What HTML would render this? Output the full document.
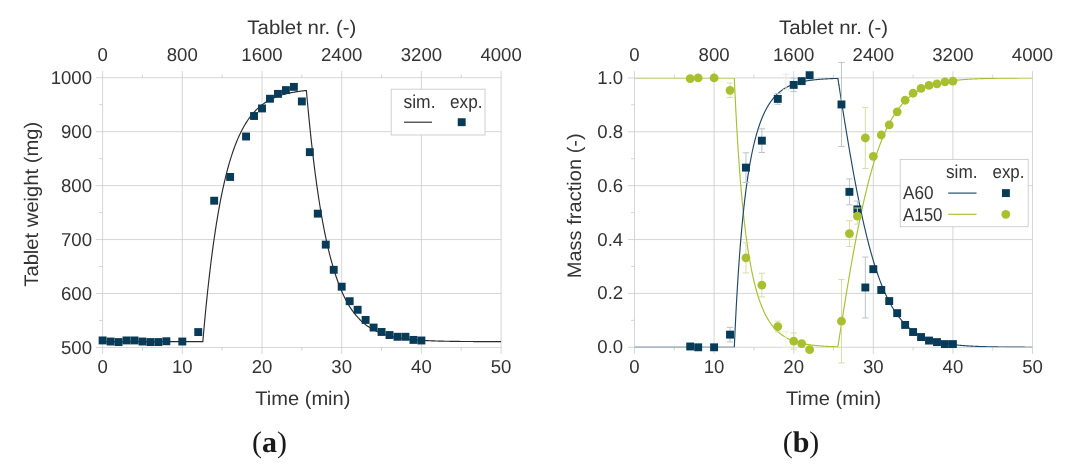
<!DOCTYPE html>
<html lang="en"><head><meta charset="utf-8"><title>Figure</title>
<style>html,body{margin:0;padding:0;background:#fff}svg{display:block}</style></head>
<body>
<svg width="1070" height="476" viewBox="0 0 1070 476" text-rendering="geometricPrecision">
<rect width="1070" height="476" fill="#ffffff"/>
<g stroke="#cbcbcb" stroke-width="0.8" fill="none"><line x1="102.60" y1="71.00" x2="102.60" y2="353.95"/><line x1="182.30" y1="71.00" x2="182.30" y2="353.95"/><line x1="262.00" y1="71.00" x2="262.00" y2="353.95"/><line x1="341.70" y1="71.00" x2="341.70" y2="353.95"/><line x1="421.40" y1="71.00" x2="421.40" y2="353.95"/><line x1="501.10" y1="71.00" x2="501.10" y2="353.95"/><line x1="142.45" y1="74.40" x2="142.45" y2="77.70"/><line x1="142.45" y1="347.45" x2="142.45" y2="350.75"/><line x1="222.15" y1="74.40" x2="222.15" y2="77.70"/><line x1="222.15" y1="347.45" x2="222.15" y2="350.75"/><line x1="301.85" y1="74.40" x2="301.85" y2="77.70"/><line x1="301.85" y1="347.45" x2="301.85" y2="350.75"/><line x1="381.55" y1="74.40" x2="381.55" y2="77.70"/><line x1="381.55" y1="347.45" x2="381.55" y2="350.75"/><line x1="461.25" y1="74.40" x2="461.25" y2="77.70"/><line x1="461.25" y1="347.45" x2="461.25" y2="350.75"/><line x1="95.80" y1="77.70" x2="501.10" y2="77.70"/><line x1="99.20" y1="104.68" x2="102.60" y2="104.68"/><line x1="95.80" y1="131.65" x2="501.10" y2="131.65"/><line x1="99.20" y1="158.62" x2="102.60" y2="158.62"/><line x1="95.80" y1="185.60" x2="501.10" y2="185.60"/><line x1="99.20" y1="212.58" x2="102.60" y2="212.58"/><line x1="95.80" y1="239.55" x2="501.10" y2="239.55"/><line x1="99.20" y1="266.53" x2="102.60" y2="266.53"/><line x1="95.80" y1="293.50" x2="501.10" y2="293.50"/><line x1="99.20" y1="320.48" x2="102.60" y2="320.48"/><line x1="95.80" y1="347.45" x2="501.10" y2="347.45"/></g>
<g font-family='"Liberation Sans", Arial, sans-serif' font-size="18.6" fill="#333333"><text x="102.60" y="60.7" text-anchor="middle">0</text><text x="182.30" y="60.7" text-anchor="middle">800</text><text x="262.00" y="60.7" text-anchor="middle">1600</text><text x="341.70" y="60.7" text-anchor="middle">2400</text><text x="421.40" y="60.7" text-anchor="middle">3200</text><text x="501.10" y="60.7" text-anchor="middle">4000</text><text x="102.60" y="373.4" text-anchor="middle">0</text><text x="182.30" y="373.4" text-anchor="middle">10</text><text x="262.00" y="373.4" text-anchor="middle">20</text><text x="341.70" y="373.4" text-anchor="middle">30</text><text x="421.40" y="373.4" text-anchor="middle">40</text><text x="501.10" y="373.4" text-anchor="middle">50</text><text x="92.00" y="84.30" text-anchor="end">1000</text><text x="92.00" y="138.25" text-anchor="end">900</text><text x="92.00" y="192.20" text-anchor="end">800</text><text x="92.00" y="246.15" text-anchor="end">700</text><text x="92.00" y="300.10" text-anchor="end">600</text><text x="92.00" y="354.05" text-anchor="end">500</text></g>
<g font-family='"Liberation Sans", Arial, sans-serif' font-size="19.6" fill="#333333"><text x="301.85" y="34.2" text-anchor="middle" textLength="109" lengthAdjust="spacingAndGlyphs">Tablet nr. (-)</text><text x="302.85" y="404.7" text-anchor="middle" textLength="95.2" lengthAdjust="spacingAndGlyphs">Time (min)</text><text transform="translate(38.4,204.2) rotate(-90)" text-anchor="middle" textLength="165" lengthAdjust="spacingAndGlyphs">Tablet weight (mg)</text></g>
<polyline points="102.60,341.68 202.83,341.68 202.83,341.68 203.63,332.53 204.42,323.72 205.22,315.23 206.02,307.04 206.82,299.14 207.61,291.54 208.41,284.20 209.21,277.13 210.00,270.32 210.80,263.75 211.60,257.42 212.39,251.32 213.19,245.44 213.99,239.77 214.79,234.31 215.58,229.04 216.38,223.96 217.18,219.07 217.97,214.35 218.77,209.80 219.57,205.42 220.36,201.20 221.16,197.12 221.96,193.20 222.76,189.41 223.55,185.77 224.35,182.25 225.15,178.86 225.94,175.60 226.74,172.45 227.54,169.41 228.33,166.49 229.13,163.67 229.93,160.95 230.73,158.33 231.52,155.81 232.32,153.37 233.12,151.03 233.91,148.77 234.71,146.59 235.51,144.49 236.30,142.46 237.10,140.51 237.90,138.63 238.70,136.81 239.49,135.07 240.29,133.38 241.09,131.76 241.88,130.19 242.68,128.68 243.48,127.23 244.27,125.82 245.07,124.47 245.87,123.17 246.67,121.91 247.46,120.70 248.26,119.54 249.06,118.41 249.85,117.33 250.65,116.28 251.45,115.28 252.24,114.31 253.04,113.37 253.84,112.47 254.64,111.60 255.43,110.76 256.23,109.95 257.03,109.17 257.82,108.42 258.62,107.70 259.42,107.00 260.21,106.33 261.01,105.68 261.81,105.06 262.61,104.46 263.40,103.88 264.20,103.32 265.00,102.78 265.79,102.26 266.59,101.76 267.39,101.27 268.18,100.81 268.98,100.36 269.78,99.93 270.58,99.51 271.37,99.11 272.17,98.72 272.97,98.35 273.76,97.99 274.56,97.64 275.36,97.31 276.15,96.99 276.95,96.68 277.75,96.38 278.55,96.09 279.34,95.81 280.14,95.54 280.94,95.28 281.73,95.03 282.53,94.79 283.33,94.56 284.12,94.34 284.92,94.12 285.72,93.92 286.52,93.72 287.31,93.52 288.11,93.34 288.91,93.16 289.70,92.99 290.50,92.82 291.30,92.66 292.09,92.51 292.89,92.36 293.69,92.21 294.49,92.08 295.28,91.94 296.08,91.81 296.88,91.69 297.67,91.57 298.47,91.46 299.27,91.34 300.06,91.24 300.86,91.13 301.66,91.04 302.46,90.94 303.25,90.85 304.05,90.76 304.85,90.67 305.64,90.59 306.39,90.51 306.39,90.51 307.19,99.45 307.99,108.07 308.78,116.38 309.58,124.40 310.38,132.13 311.17,139.59 311.97,146.78 312.77,153.71 313.57,160.40 314.36,166.85 315.16,173.07 315.96,179.07 316.75,184.86 317.55,190.44 318.35,195.82 319.14,201.01 319.94,206.02 320.74,210.84 321.54,215.50 322.33,219.99 323.13,224.32 323.93,228.50 324.72,232.52 325.52,236.41 326.32,240.15 327.11,243.77 327.91,247.25 328.71,250.61 329.51,253.85 330.30,256.97 331.10,259.99 331.90,262.90 332.69,265.70 333.49,268.40 334.29,271.01 335.08,273.52 335.88,275.95 336.68,278.29 337.48,280.54 338.27,282.72 339.07,284.82 339.87,286.84 340.66,288.79 341.46,290.67 342.26,292.49 343.05,294.24 343.85,295.93 344.65,297.55 345.45,299.12 346.24,300.64 347.04,302.10 347.84,303.51 348.63,304.87 349.43,306.18 350.23,307.44 351.02,308.66 351.82,309.83 352.62,310.97 353.42,312.06 354.21,313.11 355.01,314.13 355.81,315.11 356.60,316.05 357.40,316.97 358.20,317.85 358.99,318.69 359.79,319.51 360.59,320.30 361.39,321.06 362.18,321.79 362.98,322.50 363.78,323.18 364.57,323.84 365.37,324.48 366.17,325.09 366.96,325.68 367.76,326.25 368.56,326.80 369.36,327.33 370.15,327.84 370.95,328.33 371.75,328.80 372.54,329.26 373.34,329.70 374.14,330.13 374.93,330.54 375.73,330.94 376.53,331.32 377.33,331.69 378.12,332.04 378.92,332.39 379.72,332.72 380.51,333.04 381.31,333.34 382.11,333.64 382.90,333.93 383.70,334.20 384.50,334.47 385.30,334.72 386.09,334.97 386.89,335.21 387.69,335.44 388.48,335.66 389.28,335.88 390.08,336.08 390.87,336.28 391.67,336.47 392.47,336.66 393.27,336.84 394.06,337.01 394.86,337.18 395.66,337.34 396.45,337.49 397.25,337.64 398.05,337.78 398.84,337.92 399.64,338.06 400.44,338.18 401.24,338.31 402.03,338.43 402.83,338.54 403.63,338.66 404.42,338.76 405.22,338.87 406.02,338.97 406.81,339.06 407.61,339.16 408.41,339.25 409.21,339.33 410.00,339.42 410.80,339.50 411.60,339.57 412.39,339.65 413.19,339.72 413.99,339.79 414.78,339.86 415.58,339.92 416.38,339.99 417.18,340.05 417.97,340.10 418.77,340.16 419.57,340.21 420.36,340.27 421.16,340.32 421.96,340.36 422.75,340.41 423.55,340.46 424.35,340.50 425.15,340.54 425.94,340.58 426.74,340.62 427.54,340.66 428.33,340.69 429.13,340.73 429.93,340.76 430.72,340.80 431.52,340.83 432.32,340.86 433.12,340.89 433.91,340.91 434.71,340.94 435.51,340.97 436.30,340.99 437.10,341.02 437.90,341.04 438.69,341.06 439.49,341.09 440.29,341.11 441.09,341.13 441.88,341.15 442.68,341.17 443.48,341.18 444.27,341.20 445.07,341.22 445.87,341.23 446.66,341.25 447.46,341.27 448.26,341.28 449.06,341.29 449.85,341.31 450.65,341.32 451.45,341.33 452.24,341.35 453.04,341.36 453.84,341.37 454.63,341.38 455.43,341.39 456.23,341.40 457.03,341.41 457.82,341.42 458.62,341.43 459.42,341.44 460.21,341.45 461.01,341.45 461.81,341.46 462.60,341.47 463.40,341.48 464.20,341.48 465.00,341.49 465.79,341.50 466.59,341.50 467.39,341.51 468.18,341.52 468.98,341.52 469.78,341.53 470.57,341.53 471.37,341.54 472.17,341.54 472.97,341.55 473.76,341.55 474.56,341.56 475.36,341.56 476.15,341.57 476.95,341.57 477.75,341.57 478.54,341.58 479.34,341.58 480.14,341.58 480.94,341.59 481.73,341.59 482.53,341.59 483.33,341.60 484.12,341.60 484.92,341.60 485.72,341.60 486.51,341.61 487.31,341.61 488.11,341.61 488.91,341.61 489.70,341.62 490.50,341.62 491.30,341.62 492.09,341.62 492.89,341.63 493.69,341.63 494.48,341.63 495.28,341.63 496.08,341.63 496.88,341.63 497.67,341.64 498.47,341.64 499.27,341.64 500.06,341.64 500.86,341.64 501.10,341.64" fill="none" stroke="#2b2b2b" stroke-width="1.15" stroke-linejoin="miter"/>
<rect x="98.65" y="336.49" width="7.9" height="7.9" fill="#073b58"/><rect x="106.62" y="337.57" width="7.9" height="7.9" fill="#073b58"/><rect x="114.59" y="338.11" width="7.9" height="7.9" fill="#073b58"/><rect x="122.56" y="336.49" width="7.9" height="7.9" fill="#073b58"/><rect x="130.53" y="336.49" width="7.9" height="7.9" fill="#073b58"/><rect x="138.50" y="337.57" width="7.9" height="7.9" fill="#073b58"/><rect x="146.47" y="338.11" width="7.9" height="7.9" fill="#073b58"/><rect x="154.44" y="338.11" width="7.9" height="7.9" fill="#073b58"/><rect x="162.41" y="337.30" width="7.9" height="7.9" fill="#073b58"/><rect x="178.35" y="337.57" width="7.9" height="7.9" fill="#073b58"/><rect x="194.29" y="328.12" width="7.9" height="7.9" fill="#073b58"/><rect x="210.23" y="196.76" width="7.9" height="7.9" fill="#073b58"/><rect x="226.17" y="173.02" width="7.9" height="7.9" fill="#073b58"/><rect x="242.11" y="132.56" width="7.9" height="7.9" fill="#073b58"/><rect x="250.08" y="112.05" width="7.9" height="7.9" fill="#073b58"/><rect x="258.05" y="104.50" width="7.9" height="7.9" fill="#073b58"/><rect x="266.02" y="94.79" width="7.9" height="7.9" fill="#073b58"/><rect x="273.99" y="89.93" width="7.9" height="7.9" fill="#073b58"/><rect x="281.96" y="86.16" width="7.9" height="7.9" fill="#073b58"/><rect x="289.93" y="82.92" width="7.9" height="7.9" fill="#073b58"/><rect x="297.90" y="97.49" width="7.9" height="7.9" fill="#073b58"/><rect x="305.87" y="148.20" width="7.9" height="7.9" fill="#073b58"/><rect x="313.84" y="209.70" width="7.9" height="7.9" fill="#073b58"/><rect x="321.81" y="240.67" width="7.9" height="7.9" fill="#073b58"/><rect x="329.78" y="265.87" width="7.9" height="7.9" fill="#073b58"/><rect x="337.75" y="282.75" width="7.9" height="7.9" fill="#073b58"/><rect x="345.72" y="297.26" width="7.9" height="7.9" fill="#073b58"/><rect x="353.69" y="305.84" width="7.9" height="7.9" fill="#073b58"/><rect x="361.66" y="315.99" width="7.9" height="7.9" fill="#073b58"/><rect x="369.63" y="323.59" width="7.9" height="7.9" fill="#073b58"/><rect x="377.60" y="328.02" width="7.9" height="7.9" fill="#073b58"/><rect x="385.57" y="331.09" width="7.9" height="7.9" fill="#073b58"/><rect x="393.54" y="332.82" width="7.9" height="7.9" fill="#073b58"/><rect x="401.51" y="332.82" width="7.9" height="7.9" fill="#073b58"/><rect x="409.48" y="335.95" width="7.9" height="7.9" fill="#073b58"/><rect x="417.45" y="336.54" width="7.9" height="7.9" fill="#073b58"/>
<rect x="391.2" y="89.2" width="93.8" height="45.8" fill="#ffffff" stroke="#cbcbcb" stroke-width="0.9"/>
<g font-family='"Liberation Sans", Arial, sans-serif' font-size="18.6" fill="#333333"><text x="403.5" y="107.6" textLength="32" lengthAdjust="spacingAndGlyphs">sim.</text><text x="450" y="107.6" textLength="32.5" lengthAdjust="spacingAndGlyphs">exp.</text></g>
<line x1="404" y1="122.2" x2="432" y2="122.2" stroke="#2b2b2b" stroke-width="1.15"/>
<rect x="457.75" y="118.25" width="7.9" height="7.9" fill="#073b58"/>
<g stroke="#cbcbcb" stroke-width="0.8" fill="none"><line x1="634.50" y1="71.20" x2="634.50" y2="353.80"/><line x1="714.10" y1="71.20" x2="714.10" y2="353.80"/><line x1="793.70" y1="71.20" x2="793.70" y2="353.80"/><line x1="873.30" y1="71.20" x2="873.30" y2="353.80"/><line x1="952.90" y1="71.20" x2="952.90" y2="353.80"/><line x1="1032.50" y1="71.20" x2="1032.50" y2="353.80"/><line x1="674.30" y1="74.60" x2="674.30" y2="77.90"/><line x1="674.30" y1="347.30" x2="674.30" y2="350.60"/><line x1="753.90" y1="74.60" x2="753.90" y2="77.90"/><line x1="753.90" y1="347.30" x2="753.90" y2="350.60"/><line x1="833.50" y1="74.60" x2="833.50" y2="77.90"/><line x1="833.50" y1="347.30" x2="833.50" y2="350.60"/><line x1="913.10" y1="74.60" x2="913.10" y2="77.90"/><line x1="913.10" y1="347.30" x2="913.10" y2="350.60"/><line x1="992.70" y1="74.60" x2="992.70" y2="77.90"/><line x1="992.70" y1="347.30" x2="992.70" y2="350.60"/><line x1="627.70" y1="77.90" x2="1032.50" y2="77.90"/><line x1="631.10" y1="104.84" x2="634.50" y2="104.84"/><line x1="627.70" y1="131.78" x2="1032.50" y2="131.78"/><line x1="631.10" y1="158.72" x2="634.50" y2="158.72"/><line x1="627.70" y1="185.66" x2="1032.50" y2="185.66"/><line x1="631.10" y1="212.60" x2="634.50" y2="212.60"/><line x1="627.70" y1="239.54" x2="1032.50" y2="239.54"/><line x1="631.10" y1="266.48" x2="634.50" y2="266.48"/><line x1="627.70" y1="293.42" x2="1032.50" y2="293.42"/><line x1="631.10" y1="320.36" x2="634.50" y2="320.36"/><line x1="627.70" y1="347.30" x2="1032.50" y2="347.30"/></g>
<g font-family='"Liberation Sans", Arial, sans-serif' font-size="18.6" fill="#333333"><text x="634.50" y="60.7" text-anchor="middle">0</text><text x="714.10" y="60.7" text-anchor="middle">800</text><text x="793.70" y="60.7" text-anchor="middle">1600</text><text x="873.30" y="60.7" text-anchor="middle">2400</text><text x="952.90" y="60.7" text-anchor="middle">3200</text><text x="1032.50" y="60.7" text-anchor="middle">4000</text><text x="634.50" y="373.4" text-anchor="middle">0</text><text x="714.10" y="373.4" text-anchor="middle">10</text><text x="793.70" y="373.4" text-anchor="middle">20</text><text x="873.30" y="373.4" text-anchor="middle">30</text><text x="952.90" y="373.4" text-anchor="middle">40</text><text x="1032.50" y="373.4" text-anchor="middle">50</text><text x="623.20" y="83.90" text-anchor="end">1.0</text><text x="623.20" y="137.78" text-anchor="end">0.8</text><text x="623.20" y="191.66" text-anchor="end">0.6</text><text x="623.20" y="245.54" text-anchor="end">0.4</text><text x="623.20" y="299.42" text-anchor="end">0.2</text><text x="623.20" y="353.30" text-anchor="end">0.0</text></g>
<g font-family='"Liberation Sans", Arial, sans-serif' font-size="19.6" fill="#333333"><text x="833.50" y="34.2" text-anchor="middle" textLength="109" lengthAdjust="spacingAndGlyphs">Tablet nr. (-)</text><text x="833.70" y="404.7" text-anchor="middle" textLength="95.2" lengthAdjust="spacingAndGlyphs">Time (min)</text><text transform="translate(580.7,205.8) rotate(-90)" text-anchor="middle" textLength="145" lengthAdjust="spacingAndGlyphs">Mass fraction (-)</text></g>
<clipPath id="cb"><rect x="634.5" y="77.9" width="398" height="269.40"/></clipPath><g clip-path="url(#cb)">
<polyline points="634.50,77.90 734.30,77.90 734.30,77.90 734.70,86.79 735.10,95.30 735.50,103.45 735.89,111.26 736.29,118.74 736.69,125.92 737.09,132.81 737.49,139.43 737.88,145.79 738.28,151.90 738.68,157.78 739.08,163.45 739.48,168.90 739.87,174.15 740.27,179.21 740.67,184.09 741.07,188.79 741.47,193.33 741.86,197.72 742.26,201.95 742.66,206.04 743.06,209.99 743.46,213.81 743.85,217.50 744.25,221.07 744.65,224.53 745.05,227.87 745.45,231.11 745.84,234.24 746.24,237.27 746.64,240.22 747.04,243.07 747.44,245.83 747.83,248.50 748.23,251.10 748.63,253.62 749.03,256.06 749.43,258.43 749.82,260.73 750.22,262.97 750.62,265.13 751.02,267.24 751.42,269.28 751.81,271.27 752.21,273.20 752.61,275.07 753.01,276.90 753.41,278.67 753.80,280.39 754.20,282.06 754.60,283.69 755.00,285.27 755.40,286.81 755.79,288.31 756.19,289.77 756.59,291.18 756.99,292.56 757.39,293.91 757.78,295.21 758.18,296.48 758.58,297.72 758.98,298.93 759.38,300.10 759.77,301.25 760.17,302.36 760.57,303.44 760.97,304.50 761.37,305.53 761.76,306.53 762.16,307.51 762.56,308.46 762.96,309.39 763.36,310.30 763.75,311.18 764.15,312.04 764.55,312.87 764.95,313.69 765.35,314.49 765.74,315.26 766.14,316.02 766.54,316.76 766.94,317.48 767.34,318.18 767.73,318.86 768.13,319.53 768.53,320.18 768.93,320.82 769.33,321.44 769.72,322.04 770.12,322.63 770.52,323.21 770.92,323.77 771.32,324.32 771.71,324.85 772.11,325.37 772.51,325.88 772.91,326.38 773.31,326.86 773.70,327.34 774.10,327.80 774.50,328.25 774.90,328.69 775.30,329.12 775.69,329.54 776.09,329.95 776.49,330.35 776.89,330.74 777.29,331.12 777.68,331.49 778.08,331.85 778.48,332.21 778.88,332.55 779.28,332.89 779.67,333.22 780.07,333.55 780.47,333.86 780.87,334.17 781.27,334.47 781.66,334.76 782.06,335.05 782.46,335.33 782.86,335.60 783.26,335.87 783.65,336.13 784.05,336.38 784.45,336.63 784.85,336.87 785.25,337.11 785.64,337.34 786.04,337.57 786.44,337.79 786.84,338.01 787.24,338.22 787.63,338.42 788.03,338.63 788.43,338.82 788.83,339.01 789.23,339.20 789.62,339.39 790.02,339.57 790.42,339.74 790.82,339.91 791.22,340.08 791.61,340.24 792.01,340.40 792.41,340.56 792.81,340.71 793.21,340.86 793.60,341.01 794.00,341.15 794.40,341.29 794.80,341.42 795.20,341.55 795.59,341.68 795.99,341.81 796.39,341.93 796.79,342.06 797.19,342.17 797.58,342.29 797.98,342.40 798.38,342.51 798.78,342.62 799.18,342.73 799.57,342.83 799.97,342.93 800.37,343.03 800.77,343.12 801.17,343.22 801.56,343.31 801.96,343.40 802.36,343.49 802.76,343.57 803.16,343.66 803.55,343.74 803.95,343.82 804.35,343.90 804.75,343.97 805.15,344.05 805.54,344.12 805.94,344.19 806.34,344.26 806.74,344.33 807.14,344.40 807.53,344.46 807.93,344.53 808.33,344.59 808.73,344.65 809.13,344.71 809.52,344.77 809.92,344.82 810.32,344.88 810.72,344.93 811.12,344.99 811.51,345.04 811.91,345.09 812.31,345.14 812.71,345.19 813.11,345.24 813.50,345.28 813.90,345.33 814.30,345.37 814.70,345.41 815.10,345.46 815.49,345.50 815.89,345.54 816.29,345.58 816.69,345.62 817.09,345.65 817.48,345.69 817.88,345.73 818.28,345.76 818.68,345.80 819.08,345.83 819.47,345.86 819.87,345.90 820.27,345.93 820.67,345.96 821.07,345.99 821.46,346.02 821.86,346.05 822.26,346.07 822.66,346.10 823.06,346.13 823.45,346.15 823.85,346.18 824.25,346.21 824.65,346.23 825.05,346.25 825.44,346.28 825.84,346.30 826.24,346.32 826.64,346.34 827.04,346.37 827.43,346.39 827.83,346.41 828.23,346.43 828.63,346.45 829.03,346.47 829.42,346.48 829.82,346.50 830.22,346.52 830.62,346.54 831.02,346.55 831.41,346.57 831.81,346.59 832.21,346.60 832.61,346.62 833.01,346.63 833.40,346.65 833.80,346.66 833.83,346.67 833.87,346.67 833.90,346.67 833.93,346.67 833.96,346.67 833.99,346.67 834.03,346.67 834.06,346.67 834.09,346.67 834.12,346.68 834.15,346.68 834.18,346.68 834.22,346.68 834.25,346.68 834.28,346.68 834.31,346.68 834.34,346.68 834.38,346.68 834.41,346.69 834.44,346.69 834.47,346.69 834.50,346.69 834.53,346.69 834.57,346.69 834.60,346.69 834.63,346.69 834.66,346.69 834.69,346.70 834.73,346.70 834.76,346.70 834.79,346.70 834.82,346.70 834.85,346.70 834.89,346.70 834.92,346.70 834.95,346.70 834.98,346.71 835.01,346.71 835.04,346.71 835.08,346.71 835.11,346.71 835.14,346.71 835.17,346.71 835.20,346.71 835.24,346.71 835.27,346.71 835.30,346.72 835.33,346.72 835.36,346.72 835.39,346.72 835.43,346.72 835.46,346.72 835.49,346.72 835.52,346.72 835.55,346.72 835.59,346.73 835.62,346.73 835.65,346.73 835.68,346.73 835.71,346.73 835.74,346.73 835.78,346.73 835.81,346.73 835.84,346.73 835.87,346.73 835.90,346.74 835.94,346.74 835.97,346.74 836.00,346.74 836.03,346.74 836.06,346.74 836.09,346.74 836.13,346.74 836.16,346.74 836.19,346.74 836.22,346.75 836.25,346.75 836.29,346.75 836.32,346.75 836.35,346.75 836.38,346.75 836.41,346.75 836.45,346.75 836.48,346.75 836.51,346.75 836.54,346.76 836.57,346.76 836.60,346.76 836.64,346.76 836.67,346.76 836.70,346.76 836.73,346.76 836.76,346.76 836.80,346.76 836.83,346.76 836.86,346.77 836.89,346.77 836.92,346.77 836.95,346.77 836.99,346.77 837.02,346.77 837.05,346.77 837.08,346.77 837.11,346.77 837.15,346.77 837.18,346.77 837.21,346.78 837.24,346.78 837.27,346.78 837.30,346.78 837.34,346.78 837.37,346.78 837.40,346.78 837.43,346.78 837.46,346.78 837.50,346.78 837.53,346.79 837.56,346.79 837.59,346.79 837.62,346.79 837.66,346.79 837.69,346.79 837.72,346.79 837.75,346.79 837.78,346.79 837.81,346.79 837.85,346.79 837.88,346.80 837.91,346.64 837.94,346.43 837.97,346.23 838.01,346.03 838.04,345.82 838.07,345.62 838.10,345.41 838.13,345.21 838.16,345.00 838.20,344.80 838.23,344.59 838.26,344.39 838.29,344.19 838.32,343.98 838.36,343.78 838.39,343.57 838.42,343.37 838.45,343.16 838.48,342.96 838.51,342.76 838.55,342.55 838.58,342.35 838.61,342.14 838.64,341.94 838.67,341.74 838.71,341.53 838.74,341.33 838.77,341.12 838.80,340.92 838.83,340.72 838.87,340.51 838.90,340.31 838.93,340.10 838.96,339.90 838.99,339.70 839.02,339.49 839.06,339.29 839.09,339.08 839.12,338.88 839.15,338.68 839.18,338.47 839.22,338.27 839.25,338.07 839.28,337.86 839.31,337.66 839.34,337.46 839.37,337.25 839.41,337.05 839.44,336.84 839.47,336.64 839.50,336.44 839.53,336.23 839.57,336.03 839.60,335.83 839.63,335.62 839.66,335.42 839.69,335.22 839.72,335.01 839.76,334.81 839.79,334.61 839.82,334.40 839.85,334.20 839.88,334.00 839.92,333.80 839.95,333.59 839.98,333.39 840.01,333.19 840.04,332.98 840.07,332.78 840.11,332.58 840.14,332.37 840.17,332.17 840.20,331.97 840.23,331.77 840.27,331.56 840.30,331.36 840.33,331.16 840.36,330.95 840.39,330.75 840.43,330.55 840.46,330.35 840.49,330.14 840.52,329.94 840.55,329.74 840.58,329.54 840.62,329.33 840.65,329.13 840.68,328.93 840.71,328.73 840.74,328.53 840.78,328.32 840.81,328.12 840.84,327.92 840.87,327.72 840.90,327.51 840.93,327.31 840.97,327.11 841.00,326.91 841.03,326.71 841.06,326.50 841.09,326.30 841.13,326.10 841.16,325.90 841.19,325.70 841.22,325.49 841.25,325.29 841.28,325.09 841.32,324.89 841.35,324.69 841.38,324.49 841.41,324.28 841.44,324.08 841.48,323.88 841.87,321.37 842.27,318.86 842.67,316.36 843.07,313.86 843.47,311.37 843.86,308.90 844.26,306.42 844.66,303.96 845.06,301.51 845.46,299.07 845.85,296.63 846.25,294.21 846.65,291.79 847.05,289.39 847.45,287.00 847.84,284.62 848.24,282.25 848.64,279.89 849.04,277.55 849.44,275.21 849.83,272.89 850.23,270.59 850.63,268.29 851.03,266.01 851.43,263.75 851.82,261.50 852.22,259.26 852.62,257.04 853.02,254.83 853.42,252.64 853.81,250.46 854.21,248.29 854.61,246.15 855.01,244.02 855.41,241.90 855.80,239.80 856.20,237.72 856.60,235.65 857.00,233.60 857.40,231.57 857.79,229.55 858.19,227.55 858.59,225.57 858.99,223.60 859.39,221.65 859.78,219.72 860.18,217.81 860.58,215.91 860.98,214.03 861.38,212.17 861.77,210.33 862.17,208.50 862.57,206.69 862.97,204.90 863.37,203.13 863.76,201.37 864.16,199.63 864.56,197.92 864.96,196.21 865.36,194.53 865.75,192.86 866.15,191.22 866.55,189.59 866.95,187.97 867.35,186.38 867.74,184.80 868.14,183.24 868.54,181.70 868.94,180.17 869.34,178.67 869.73,177.18 870.13,175.71 870.53,174.25 870.93,172.81 871.33,171.39 871.72,169.99 872.12,168.61 872.52,167.24 872.92,165.88 873.32,164.55 873.71,163.23 874.11,161.93 874.51,160.64 874.91,159.37 875.31,158.12 875.70,156.88 876.10,155.66 876.50,154.46 876.90,153.27 877.30,152.09 877.69,150.93 878.09,149.79 878.49,148.66 878.89,147.55 879.29,146.45 879.68,145.37 880.08,144.31 880.48,143.25 880.88,142.21 881.28,141.19 881.67,140.18 882.07,139.19 882.47,138.21 882.87,137.24 883.27,136.28 883.66,135.34 884.06,134.42 884.46,133.50 884.86,132.60 885.26,131.72 885.65,130.84 886.05,129.98 886.45,129.13 886.85,128.30 887.25,127.47 887.64,126.66 888.04,125.86 888.44,125.07 888.84,124.30 889.24,123.53 889.63,122.78 890.03,122.04 890.43,121.31 890.83,120.59 891.23,119.88 891.62,119.18 892.02,118.50 892.42,117.82 892.82,117.15 893.22,116.50 893.61,115.85 894.01,115.22 894.41,114.59 894.81,113.98 895.21,113.37 895.60,112.77 896.00,112.19 896.40,111.61 896.80,111.04 897.20,110.48 897.59,109.93 897.99,109.39 898.39,108.86 898.79,108.33 899.19,107.81 899.58,107.31 899.98,106.81 900.38,106.31 900.78,105.83 901.18,105.35 901.57,104.89 901.97,104.42 902.37,103.97 902.77,103.52 903.17,103.09 903.56,102.65 903.96,102.23 904.36,101.81 904.76,101.40 905.16,101.00 905.55,100.60 905.95,100.21 906.35,99.83 906.75,99.45 907.15,99.08 907.54,98.71 907.94,98.35 908.34,98.00 908.74,97.65 909.14,97.31 909.53,96.97 909.93,96.64 910.33,96.32 910.73,96.00 911.13,95.68 911.52,95.37 911.92,95.07 912.32,94.77 912.72,94.48 913.12,94.19 913.51,93.91 913.91,93.63 914.31,93.35 914.71,93.08 915.11,92.82 915.50,92.56 915.90,92.30 916.30,92.05 916.70,91.80 917.10,91.56 917.49,91.32 917.89,91.09 918.29,90.86 918.69,90.63 919.09,90.41 919.48,90.19 919.88,89.97 920.28,89.76 920.68,89.55 921.08,89.35 921.47,89.15 921.87,88.95 922.27,88.75 922.67,88.56 923.07,88.38 923.46,88.19 923.86,88.01 924.26,87.83 924.66,87.66 925.06,87.49 925.45,87.32 925.85,87.15 926.25,86.99 926.65,86.83 927.05,86.67 927.44,86.52 927.84,86.36 928.24,86.21 928.64,86.07 929.04,85.92 929.43,85.78 929.83,85.64 930.23,85.51 930.63,85.37 931.03,85.24 931.42,85.11 931.82,84.98 932.22,84.86 932.62,84.73 933.02,84.61 933.41,84.49 933.81,84.38 934.21,84.26 934.61,84.15 935.01,84.04 935.40,83.93 935.80,83.82 936.20,83.72 936.60,83.61 937.00,83.51 937.39,83.41 937.79,83.32 938.19,83.22 938.59,83.12 938.99,83.03 939.38,82.94 939.78,82.85 940.18,82.76 940.58,82.68 940.98,82.59 941.37,82.51 941.77,82.43 942.17,82.35 942.57,82.27 942.97,82.19 943.36,82.11 943.76,82.04 944.16,81.96 944.56,81.89 944.96,81.82 945.35,81.75 945.75,81.68 946.15,81.62 946.55,81.55 946.95,81.48 947.34,81.42 947.74,81.36 948.14,81.30 948.54,81.24 948.94,81.18 949.33,81.12 949.73,81.06 950.13,81.00 950.53,80.95 950.93,80.89 951.32,80.84 951.72,80.79 952.12,80.74 952.52,80.69 952.92,80.64 953.31,80.59 953.71,80.54 954.11,80.49 954.51,80.45 954.91,80.40 955.30,80.36 955.70,80.31 956.10,80.27 956.50,80.23 956.90,80.19 957.29,80.15 957.69,80.11 958.09,80.07 958.49,80.03 958.89,79.99 959.28,79.95 959.68,79.92 960.08,79.88 960.48,79.84 960.88,79.81 961.27,79.78 961.67,79.74 962.07,79.71 962.47,79.68 962.87,79.65 963.26,79.61 963.66,79.58 964.06,79.55 964.46,79.52 964.86,79.49 965.25,79.47 965.65,79.44 966.05,79.41 966.45,79.38 966.85,79.36 967.24,79.33 967.64,79.31 968.04,79.28 968.44,79.26 968.84,79.23 969.23,79.21 969.63,79.18 970.03,79.16 970.43,79.14 970.83,79.12 971.22,79.09 971.62,79.07 972.02,79.05 972.42,79.03 972.82,79.01 973.21,78.99 973.61,78.97 974.01,78.95 974.41,78.93 974.81,78.92 975.20,78.90 975.60,78.88 976.00,78.86 976.40,78.85 976.80,78.83 977.19,78.81 977.59,78.80 977.99,78.78 978.39,78.76 978.79,78.75 979.18,78.73 979.58,78.72 979.98,78.70 980.38,78.69 980.78,78.67 981.17,78.66 981.57,78.65 981.97,78.63 982.37,78.62 982.77,78.61 983.16,78.60 983.56,78.58 983.96,78.57 984.36,78.56 984.76,78.55 985.15,78.54 985.55,78.52 985.95,78.51 986.35,78.50 986.75,78.49 987.14,78.48 987.54,78.47 987.94,78.46 988.34,78.45 988.74,78.44 989.13,78.43 989.53,78.42 989.93,78.41 990.33,78.40 990.73,78.39 991.12,78.38 991.52,78.38 991.92,78.37 992.32,78.36 992.72,78.35 993.11,78.34 993.51,78.33 993.91,78.33 994.31,78.32 994.71,78.31 995.10,78.30 995.50,78.30 995.90,78.29 996.30,78.28 996.70,78.28 997.09,78.27 997.49,78.26 997.89,78.26 998.29,78.25 998.69,78.24 999.08,78.24 999.48,78.23 999.88,78.23 1000.28,78.22 1000.68,78.21 1001.07,78.21 1001.47,78.20 1001.87,78.20 1002.27,78.19 1002.67,78.19 1003.06,78.18 1003.46,78.18 1003.86,78.17 1004.26,78.17 1004.66,78.16 1005.05,78.16 1005.45,78.15 1005.85,78.15 1006.25,78.14 1006.65,78.14 1007.04,78.14 1007.44,78.13 1007.84,78.13 1008.24,78.12 1008.64,78.12 1009.03,78.11 1009.43,78.11 1009.83,78.11 1010.23,78.10 1010.63,78.10 1011.02,78.10 1011.42,78.09 1011.82,78.09 1012.22,78.09 1012.62,78.08 1013.01,78.08 1013.41,78.08 1013.81,78.07 1014.21,78.07 1014.61,78.07 1015.00,78.06 1015.40,78.06 1015.80,78.06 1016.20,78.06 1016.60,78.05 1016.99,78.05 1017.39,78.05 1017.79,78.04 1018.19,78.04 1018.59,78.04 1018.98,78.04 1019.38,78.03 1019.78,78.03 1020.18,78.03 1020.58,78.03 1020.97,78.02 1021.37,78.02 1021.77,78.02 1022.17,78.02 1022.57,78.02 1022.96,78.01 1023.36,78.01 1023.76,78.01 1024.16,78.01 1024.56,78.01 1024.95,78.00 1025.35,78.00 1025.75,78.00 1026.15,78.00 1026.55,78.00 1026.94,78.00 1027.34,77.99 1027.74,77.99 1028.14,77.99 1028.54,77.99 1028.93,77.99 1029.33,77.99 1029.73,77.98 1030.13,77.98 1030.53,77.98 1030.92,77.98 1031.32,77.98 1031.72,77.98 1032.12,77.98 1032.50,77.97" fill="none" stroke="#a8c030" stroke-width="1.15"/>
<polyline points="634.50,347.30 734.30,347.30 734.30,347.30 734.70,338.41 735.10,329.90 735.50,321.75 735.89,313.94 736.29,306.46 736.69,299.28 737.09,292.39 737.49,285.77 737.88,279.41 738.28,273.30 738.68,267.42 739.08,261.75 739.48,256.30 739.87,251.05 740.27,245.99 740.67,241.11 741.07,236.41 741.47,231.87 741.86,227.48 742.26,223.25 742.66,219.16 743.06,215.21 743.46,211.39 743.85,207.70 744.25,204.13 744.65,200.67 745.05,197.33 745.45,194.09 745.84,190.96 746.24,187.93 746.64,184.98 747.04,182.13 747.44,179.37 747.83,176.70 748.23,174.10 748.63,171.58 749.03,169.14 749.43,166.77 749.82,164.47 750.22,162.23 750.62,160.07 751.02,157.96 751.42,155.92 751.81,153.93 752.21,152.00 752.61,150.13 753.01,148.30 753.41,146.53 753.80,144.81 754.20,143.14 754.60,141.51 755.00,139.93 755.40,138.39 755.79,136.89 756.19,135.43 756.59,134.02 756.99,132.64 757.39,131.29 757.78,129.99 758.18,128.72 758.58,127.48 758.98,126.27 759.38,125.10 759.77,123.95 760.17,122.84 760.57,121.76 760.97,120.70 761.37,119.67 761.76,118.67 762.16,117.69 762.56,116.74 762.96,115.81 763.36,114.90 763.75,114.02 764.15,113.16 764.55,112.33 764.95,111.51 765.35,110.71 765.74,109.94 766.14,109.18 766.54,108.44 766.94,107.72 767.34,107.02 767.73,106.34 768.13,105.67 768.53,105.02 768.93,104.38 769.33,103.76 769.72,103.16 770.12,102.57 770.52,101.99 770.92,101.43 771.32,100.88 771.71,100.35 772.11,99.83 772.51,99.32 772.91,98.82 773.31,98.34 773.70,97.86 774.10,97.40 774.50,96.95 774.90,96.51 775.30,96.08 775.69,95.66 776.09,95.25 776.49,94.85 776.89,94.46 777.29,94.08 777.68,93.71 778.08,93.35 778.48,92.99 778.88,92.65 779.28,92.31 779.67,91.98 780.07,91.65 780.47,91.34 780.87,91.03 781.27,90.73 781.66,90.44 782.06,90.15 782.46,89.87 782.86,89.60 783.26,89.33 783.65,89.07 784.05,88.82 784.45,88.57 784.85,88.33 785.25,88.09 785.64,87.86 786.04,87.63 786.44,87.41 786.84,87.19 787.24,86.98 787.63,86.78 788.03,86.57 788.43,86.38 788.83,86.19 789.23,86.00 789.62,85.81 790.02,85.63 790.42,85.46 790.82,85.29 791.22,85.12 791.61,84.96 792.01,84.80 792.41,84.64 792.81,84.49 793.21,84.34 793.60,84.19 794.00,84.05 794.40,83.91 794.80,83.78 795.20,83.65 795.59,83.52 795.99,83.39 796.39,83.27 796.79,83.14 797.19,83.03 797.58,82.91 797.98,82.80 798.38,82.69 798.78,82.58 799.18,82.47 799.57,82.37 799.97,82.27 800.37,82.17 800.77,82.08 801.17,81.98 801.56,81.89 801.96,81.80 802.36,81.71 802.76,81.63 803.16,81.54 803.55,81.46 803.95,81.38 804.35,81.30 804.75,81.23 805.15,81.15 805.54,81.08 805.94,81.01 806.34,80.94 806.74,80.87 807.14,80.80 807.53,80.74 807.93,80.67 808.33,80.61 808.73,80.55 809.13,80.49 809.52,80.43 809.92,80.38 810.32,80.32 810.72,80.27 811.12,80.21 811.51,80.16 811.91,80.11 812.31,80.06 812.71,80.01 813.11,79.96 813.50,79.92 813.90,79.87 814.30,79.83 814.70,79.79 815.10,79.74 815.49,79.70 815.89,79.66 816.29,79.62 816.69,79.58 817.09,79.55 817.48,79.51 817.88,79.47 818.28,79.44 818.68,79.40 819.08,79.37 819.47,79.34 819.87,79.30 820.27,79.27 820.67,79.24 821.07,79.21 821.46,79.18 821.86,79.15 822.26,79.13 822.66,79.10 823.06,79.07 823.45,79.05 823.85,79.02 824.25,78.99 824.65,78.97 825.05,78.95 825.44,78.92 825.84,78.90 826.24,78.88 826.64,78.86 827.04,78.83 827.43,78.81 827.83,78.79 828.23,78.77 828.63,78.75 829.03,78.73 829.42,78.72 829.82,78.70 830.22,78.68 830.62,78.66 831.02,78.65 831.41,78.63 831.81,78.61 832.21,78.60 832.61,78.58 833.01,78.57 833.40,78.55 833.80,78.54 833.83,78.53 833.87,78.53 833.90,78.53 833.93,78.53 833.96,78.53 833.99,78.53 834.03,78.53 834.06,78.53 834.09,78.53 834.12,78.52 834.15,78.52 834.18,78.52 834.22,78.52 834.25,78.52 834.28,78.52 834.31,78.52 834.34,78.52 834.38,78.52 834.41,78.51 834.44,78.51 834.47,78.51 834.50,78.51 834.53,78.51 834.57,78.51 834.60,78.51 834.63,78.51 834.66,78.51 834.69,78.50 834.73,78.50 834.76,78.50 834.79,78.50 834.82,78.50 834.85,78.50 834.89,78.50 834.92,78.50 834.95,78.50 834.98,78.49 835.01,78.49 835.04,78.49 835.08,78.49 835.11,78.49 835.14,78.49 835.17,78.49 835.20,78.49 835.24,78.49 835.27,78.49 835.30,78.48 835.33,78.48 835.36,78.48 835.39,78.48 835.43,78.48 835.46,78.48 835.49,78.48 835.52,78.48 835.55,78.48 835.59,78.47 835.62,78.47 835.65,78.47 835.68,78.47 835.71,78.47 835.74,78.47 835.78,78.47 835.81,78.47 835.84,78.47 835.87,78.47 835.90,78.46 835.94,78.46 835.97,78.46 836.00,78.46 836.03,78.46 836.06,78.46 836.09,78.46 836.13,78.46 836.16,78.46 836.19,78.46 836.22,78.45 836.25,78.45 836.29,78.45 836.32,78.45 836.35,78.45 836.38,78.45 836.41,78.45 836.45,78.45 836.48,78.45 836.51,78.45 836.54,78.44 836.57,78.44 836.60,78.44 836.64,78.44 836.67,78.44 836.70,78.44 836.73,78.44 836.76,78.44 836.80,78.44 836.83,78.44 836.86,78.43 836.89,78.43 836.92,78.43 836.95,78.43 836.99,78.43 837.02,78.43 837.05,78.43 837.08,78.43 837.11,78.43 837.15,78.43 837.18,78.43 837.21,78.42 837.24,78.42 837.27,78.42 837.30,78.42 837.34,78.42 837.37,78.42 837.40,78.42 837.43,78.42 837.46,78.42 837.50,78.42 837.53,78.41 837.56,78.41 837.59,78.41 837.62,78.41 837.66,78.41 837.69,78.41 837.72,78.41 837.75,78.41 837.78,78.41 837.81,78.41 837.85,78.41 837.88,78.40 837.91,78.56 837.94,78.77 837.97,78.97 838.01,79.17 838.04,79.38 838.07,79.58 838.10,79.79 838.13,79.99 838.16,80.20 838.20,80.40 838.23,80.61 838.26,80.81 838.29,81.01 838.32,81.22 838.36,81.42 838.39,81.63 838.42,81.83 838.45,82.04 838.48,82.24 838.51,82.44 838.55,82.65 838.58,82.85 838.61,83.06 838.64,83.26 838.67,83.46 838.71,83.67 838.74,83.87 838.77,84.08 838.80,84.28 838.83,84.48 838.87,84.69 838.90,84.89 838.93,85.10 838.96,85.30 838.99,85.50 839.02,85.71 839.06,85.91 839.09,86.12 839.12,86.32 839.15,86.52 839.18,86.73 839.22,86.93 839.25,87.13 839.28,87.34 839.31,87.54 839.34,87.74 839.37,87.95 839.41,88.15 839.44,88.36 839.47,88.56 839.50,88.76 839.53,88.97 839.57,89.17 839.60,89.37 839.63,89.58 839.66,89.78 839.69,89.98 839.72,90.19 839.76,90.39 839.79,90.59 839.82,90.80 839.85,91.00 839.88,91.20 839.92,91.40 839.95,91.61 839.98,91.81 840.01,92.01 840.04,92.22 840.07,92.42 840.11,92.62 840.14,92.83 840.17,93.03 840.20,93.23 840.23,93.43 840.27,93.64 840.30,93.84 840.33,94.04 840.36,94.25 840.39,94.45 840.43,94.65 840.46,94.85 840.49,95.06 840.52,95.26 840.55,95.46 840.58,95.66 840.62,95.87 840.65,96.07 840.68,96.27 840.71,96.47 840.74,96.67 840.78,96.88 840.81,97.08 840.84,97.28 840.87,97.48 840.90,97.69 840.93,97.89 840.97,98.09 841.00,98.29 841.03,98.49 841.06,98.70 841.09,98.90 841.13,99.10 841.16,99.30 841.19,99.50 841.22,99.71 841.25,99.91 841.28,100.11 841.32,100.31 841.35,100.51 841.38,100.71 841.41,100.92 841.44,101.12 841.48,101.32 841.87,103.83 842.27,106.34 842.67,108.84 843.07,111.34 843.47,113.83 843.86,116.30 844.26,118.78 844.66,121.24 845.06,123.69 845.46,126.13 845.85,128.57 846.25,130.99 846.65,133.41 847.05,135.81 847.45,138.20 847.84,140.58 848.24,142.95 848.64,145.31 849.04,147.65 849.44,149.99 849.83,152.31 850.23,154.61 850.63,156.91 851.03,159.19 851.43,161.45 851.82,163.70 852.22,165.94 852.62,168.16 853.02,170.37 853.42,172.56 853.81,174.74 854.21,176.91 854.61,179.05 855.01,181.18 855.41,183.30 855.80,185.40 856.20,187.48 856.60,189.55 857.00,191.60 857.40,193.63 857.79,195.65 858.19,197.65 858.59,199.63 858.99,201.60 859.39,203.55 859.78,205.48 860.18,207.39 860.58,209.29 860.98,211.17 861.38,213.03 861.77,214.87 862.17,216.70 862.57,218.51 862.97,220.30 863.37,222.07 863.76,223.83 864.16,225.57 864.56,227.28 864.96,228.99 865.36,230.67 865.75,232.34 866.15,233.98 866.55,235.61 866.95,237.23 867.35,238.82 867.74,240.40 868.14,241.96 868.54,243.50 868.94,245.03 869.34,246.53 869.73,248.02 870.13,249.49 870.53,250.95 870.93,252.39 871.33,253.81 871.72,255.21 872.12,256.59 872.52,257.96 872.92,259.32 873.32,260.65 873.71,261.97 874.11,263.27 874.51,264.56 874.91,265.83 875.31,267.08 875.70,268.32 876.10,269.54 876.50,270.74 876.90,271.93 877.30,273.11 877.69,274.27 878.09,275.41 878.49,276.54 878.89,277.65 879.29,278.75 879.68,279.83 880.08,280.89 880.48,281.95 880.88,282.99 881.28,284.01 881.67,285.02 882.07,286.01 882.47,286.99 882.87,287.96 883.27,288.92 883.66,289.86 884.06,290.78 884.46,291.70 884.86,292.60 885.26,293.48 885.65,294.36 886.05,295.22 886.45,296.07 886.85,296.90 887.25,297.73 887.64,298.54 888.04,299.34 888.44,300.13 888.84,300.90 889.24,301.67 889.63,302.42 890.03,303.16 890.43,303.89 890.83,304.61 891.23,305.32 891.62,306.02 892.02,306.70 892.42,307.38 892.82,308.05 893.22,308.70 893.61,309.35 894.01,309.98 894.41,310.61 894.81,311.22 895.21,311.83 895.60,312.43 896.00,313.01 896.40,313.59 896.80,314.16 897.20,314.72 897.59,315.27 897.99,315.81 898.39,316.34 898.79,316.87 899.19,317.39 899.58,317.89 899.98,318.39 900.38,318.89 900.78,319.37 901.18,319.85 901.57,320.31 901.97,320.78 902.37,321.23 902.77,321.68 903.17,322.11 903.56,322.55 903.96,322.97 904.36,323.39 904.76,323.80 905.16,324.20 905.55,324.60 905.95,324.99 906.35,325.37 906.75,325.75 907.15,326.12 907.54,326.49 907.94,326.85 908.34,327.20 908.74,327.55 909.14,327.89 909.53,328.23 909.93,328.56 910.33,328.88 910.73,329.20 911.13,329.52 911.52,329.83 911.92,330.13 912.32,330.43 912.72,330.72 913.12,331.01 913.51,331.29 913.91,331.57 914.31,331.85 914.71,332.12 915.11,332.38 915.50,332.64 915.90,332.90 916.30,333.15 916.70,333.40 917.10,333.64 917.49,333.88 917.89,334.11 918.29,334.34 918.69,334.57 919.09,334.79 919.48,335.01 919.88,335.23 920.28,335.44 920.68,335.65 921.08,335.85 921.47,336.05 921.87,336.25 922.27,336.45 922.67,336.64 923.07,336.82 923.46,337.01 923.86,337.19 924.26,337.37 924.66,337.54 925.06,337.71 925.45,337.88 925.85,338.05 926.25,338.21 926.65,338.37 927.05,338.53 927.44,338.68 927.84,338.84 928.24,338.99 928.64,339.13 929.04,339.28 929.43,339.42 929.83,339.56 930.23,339.69 930.63,339.83 931.03,339.96 931.42,340.09 931.82,340.22 932.22,340.34 932.62,340.47 933.02,340.59 933.41,340.71 933.81,340.82 934.21,340.94 934.61,341.05 935.01,341.16 935.40,341.27 935.80,341.38 936.20,341.48 936.60,341.59 937.00,341.69 937.39,341.79 937.79,341.88 938.19,341.98 938.59,342.08 938.99,342.17 939.38,342.26 939.78,342.35 940.18,342.44 940.58,342.52 940.98,342.61 941.37,342.69 941.77,342.77 942.17,342.85 942.57,342.93 942.97,343.01 943.36,343.09 943.76,343.16 944.16,343.24 944.56,343.31 944.96,343.38 945.35,343.45 945.75,343.52 946.15,343.58 946.55,343.65 946.95,343.72 947.34,343.78 947.74,343.84 948.14,343.90 948.54,343.96 948.94,344.02 949.33,344.08 949.73,344.14 950.13,344.20 950.53,344.25 950.93,344.31 951.32,344.36 951.72,344.41 952.12,344.46 952.52,344.51 952.92,344.56 953.31,344.61 953.71,344.66 954.11,344.71 954.51,344.75 954.91,344.80 955.30,344.84 955.70,344.89 956.10,344.93 956.50,344.97 956.90,345.01 957.29,345.05 957.69,345.09 958.09,345.13 958.49,345.17 958.89,345.21 959.28,345.25 959.68,345.28 960.08,345.32 960.48,345.36 960.88,345.39 961.27,345.42 961.67,345.46 962.07,345.49 962.47,345.52 962.87,345.55 963.26,345.59 963.66,345.62 964.06,345.65 964.46,345.68 964.86,345.71 965.25,345.73 965.65,345.76 966.05,345.79 966.45,345.82 966.85,345.84 967.24,345.87 967.64,345.89 968.04,345.92 968.44,345.94 968.84,345.97 969.23,345.99 969.63,346.02 970.03,346.04 970.43,346.06 970.83,346.08 971.22,346.11 971.62,346.13 972.02,346.15 972.42,346.17 972.82,346.19 973.21,346.21 973.61,346.23 974.01,346.25 974.41,346.27 974.81,346.28 975.20,346.30 975.60,346.32 976.00,346.34 976.40,346.35 976.80,346.37 977.19,346.39 977.59,346.40 977.99,346.42 978.39,346.44 978.79,346.45 979.18,346.47 979.58,346.48 979.98,346.50 980.38,346.51 980.78,346.53 981.17,346.54 981.57,346.55 981.97,346.57 982.37,346.58 982.77,346.59 983.16,346.60 983.56,346.62 983.96,346.63 984.36,346.64 984.76,346.65 985.15,346.66 985.55,346.68 985.95,346.69 986.35,346.70 986.75,346.71 987.14,346.72 987.54,346.73 987.94,346.74 988.34,346.75 988.74,346.76 989.13,346.77 989.53,346.78 989.93,346.79 990.33,346.80 990.73,346.81 991.12,346.82 991.52,346.82 991.92,346.83 992.32,346.84 992.72,346.85 993.11,346.86 993.51,346.87 993.91,346.87 994.31,346.88 994.71,346.89 995.10,346.90 995.50,346.90 995.90,346.91 996.30,346.92 996.70,346.92 997.09,346.93 997.49,346.94 997.89,346.94 998.29,346.95 998.69,346.96 999.08,346.96 999.48,346.97 999.88,346.97 1000.28,346.98 1000.68,346.99 1001.07,346.99 1001.47,347.00 1001.87,347.00 1002.27,347.01 1002.67,347.01 1003.06,347.02 1003.46,347.02 1003.86,347.03 1004.26,347.03 1004.66,347.04 1005.05,347.04 1005.45,347.05 1005.85,347.05 1006.25,347.06 1006.65,347.06 1007.04,347.06 1007.44,347.07 1007.84,347.07 1008.24,347.08 1008.64,347.08 1009.03,347.09 1009.43,347.09 1009.83,347.09 1010.23,347.10 1010.63,347.10 1011.02,347.10 1011.42,347.11 1011.82,347.11 1012.22,347.11 1012.62,347.12 1013.01,347.12 1013.41,347.12 1013.81,347.13 1014.21,347.13 1014.61,347.13 1015.00,347.14 1015.40,347.14 1015.80,347.14 1016.20,347.14 1016.60,347.15 1016.99,347.15 1017.39,347.15 1017.79,347.16 1018.19,347.16 1018.59,347.16 1018.98,347.16 1019.38,347.17 1019.78,347.17 1020.18,347.17 1020.58,347.17 1020.97,347.18 1021.37,347.18 1021.77,347.18 1022.17,347.18 1022.57,347.18 1022.96,347.19 1023.36,347.19 1023.76,347.19 1024.16,347.19 1024.56,347.19 1024.95,347.20 1025.35,347.20 1025.75,347.20 1026.15,347.20 1026.55,347.20 1026.94,347.20 1027.34,347.21 1027.74,347.21 1028.14,347.21 1028.54,347.21 1028.93,347.21 1029.33,347.21 1029.73,347.22 1030.13,347.22 1030.53,347.22 1030.92,347.22 1031.32,347.22 1031.72,347.22 1032.12,347.22 1032.50,347.23" fill="none" stroke="#1f4864" stroke-width="1.15"/></g>
<path d="M785.98 74.13V89.75M782.78 74.13H789.18M782.78 89.75H789.18" stroke="#e3e6e9" stroke-width="1" fill="none"/>
<path d="M785.98 331.67V347.30M782.78 331.67H789.18M782.78 347.30H789.18" stroke="#edf1da" stroke-width="1" fill="none"/>
<path d="M730.02 327.36V341.91M726.82 327.36H733.22M726.82 341.91H733.22" stroke="#bcc3c9" stroke-width="1" fill="none"/>
<path d="M745.94 152.79V182.43M742.74 152.79H749.14M742.74 182.43H749.14" stroke="#bcc3c9" stroke-width="1" fill="none"/>
<path d="M761.86 128.82V152.52M758.66 128.82H765.06M758.66 152.52H765.06" stroke="#bcc3c9" stroke-width="1" fill="none"/>
<path d="M777.78 93.53V104.30M774.58 93.53H780.98M774.58 104.30H780.98" stroke="#bcc3c9" stroke-width="1" fill="none"/>
<path d="M793.70 78.17V91.64M790.50 78.17H796.90M790.50 91.64H796.90" stroke="#bcc3c9" stroke-width="1" fill="none"/>
<path d="M841.46 62.41V146.46M838.26 62.41H844.66M838.26 146.46H844.66" stroke="#bcc3c9" stroke-width="1" fill="none"/>
<path d="M849.42 178.93V204.79M846.22 178.93H852.62M846.22 204.79H852.62" stroke="#bcc3c9" stroke-width="1" fill="none"/>
<path d="M857.38 201.02V217.72M854.18 201.02H860.58M854.18 217.72H860.58" stroke="#bcc3c9" stroke-width="1" fill="none"/>
<path d="M865.34 257.05V317.94M862.14 257.05H868.54M862.14 317.94H868.54" stroke="#bcc3c9" stroke-width="1" fill="none"/>
<rect x="686.27" y="342.54" width="7.9" height="7.9" fill="#073b58"/><rect x="694.23" y="343.35" width="7.9" height="7.9" fill="#073b58"/><rect x="710.15" y="343.35" width="7.9" height="7.9" fill="#073b58"/><rect x="726.07" y="330.69" width="7.9" height="7.9" fill="#073b58"/><rect x="741.99" y="163.66" width="7.9" height="7.9" fill="#073b58"/><rect x="757.91" y="136.72" width="7.9" height="7.9" fill="#073b58"/><rect x="773.83" y="94.96" width="7.9" height="7.9" fill="#073b58"/><rect x="789.75" y="80.95" width="7.9" height="7.9" fill="#073b58"/><rect x="797.71" y="77.18" width="7.9" height="7.9" fill="#073b58"/><rect x="805.67" y="71.26" width="7.9" height="7.9" fill="#073b58"/><rect x="837.51" y="100.49" width="7.9" height="7.9" fill="#073b58"/><rect x="845.47" y="187.91" width="7.9" height="7.9" fill="#073b58"/><rect x="853.43" y="205.42" width="7.9" height="7.9" fill="#073b58"/><rect x="861.39" y="283.54" width="7.9" height="7.9" fill="#073b58"/><rect x="869.35" y="265.22" width="7.9" height="7.9" fill="#073b58"/><rect x="877.31" y="286.05" width="7.9" height="7.9" fill="#073b58"/><rect x="885.27" y="297.12" width="7.9" height="7.9" fill="#073b58"/><rect x="893.23" y="309.19" width="7.9" height="7.9" fill="#073b58"/><rect x="901.19" y="320.99" width="7.9" height="7.9" fill="#073b58"/><rect x="909.15" y="328.08" width="7.9" height="7.9" fill="#073b58"/><rect x="917.11" y="333.11" width="7.9" height="7.9" fill="#073b58"/><rect x="925.07" y="336.62" width="7.9" height="7.9" fill="#073b58"/><rect x="933.03" y="338.15" width="7.9" height="7.9" fill="#073b58"/><rect x="940.99" y="340.14" width="7.9" height="7.9" fill="#073b58"/><rect x="948.95" y="340.14" width="7.9" height="7.9" fill="#073b58"/>
<path d="M730.02 83.02V97.57M726.82 83.02H733.22M726.82 97.57H733.22" stroke="#d5dfa8" stroke-width="1" fill="none"/>
<path d="M745.94 242.77V272.95M742.74 242.77H749.14M742.74 272.95H749.14" stroke="#d5dfa8" stroke-width="1" fill="none"/>
<path d="M761.86 273.22V296.92M758.66 273.22H765.06M758.66 296.92H765.06" stroke="#d5dfa8" stroke-width="1" fill="none"/>
<path d="M777.78 321.17V331.94M774.58 321.17H780.98M774.58 331.94H780.98" stroke="#d5dfa8" stroke-width="1" fill="none"/>
<path d="M793.70 333.02V349.19M790.50 333.02H796.90M790.50 349.19H796.90" stroke="#d5dfa8" stroke-width="1" fill="none"/>
<path d="M841.46 279.41V362.93M838.26 279.41H844.66M838.26 362.93H844.66" stroke="#d5dfa8" stroke-width="1" fill="none"/>
<path d="M849.42 220.68V246.54M846.22 220.68H852.62M846.22 246.54H852.62" stroke="#d5dfa8" stroke-width="1" fill="none"/>
<path d="M857.38 208.02V224.18M854.18 208.02H860.58M854.18 224.18H860.58" stroke="#d5dfa8" stroke-width="1" fill="none"/>
<path d="M865.34 107.40V168.55M862.14 107.40H868.54M862.14 168.55H868.54" stroke="#d5dfa8" stroke-width="1" fill="none"/>
<circle cx="690.22" cy="78.71" r="4.4" fill="#a8c030"/><circle cx="698.18" cy="77.90" r="4.4" fill="#a8c030"/><circle cx="714.10" cy="77.90" r="4.4" fill="#a8c030"/><circle cx="730.02" cy="90.29" r="4.4" fill="#a8c030"/><circle cx="745.94" cy="257.86" r="4.4" fill="#a8c030"/><circle cx="761.86" cy="285.07" r="4.4" fill="#a8c030"/><circle cx="777.78" cy="326.56" r="4.4" fill="#a8c030"/><circle cx="793.70" cy="341.10" r="4.4" fill="#a8c030"/><circle cx="801.66" cy="343.61" r="4.4" fill="#a8c030"/><circle cx="809.62" cy="349.72" r="4.4" fill="#a8c030"/><circle cx="841.46" cy="321.17" r="4.4" fill="#a8c030"/><circle cx="849.42" cy="233.61" r="4.4" fill="#a8c030"/><circle cx="857.38" cy="216.10" r="4.4" fill="#a8c030"/><circle cx="865.34" cy="137.98" r="4.4" fill="#a8c030"/><circle cx="873.30" cy="156.30" r="4.4" fill="#a8c030"/><circle cx="881.26" cy="135.01" r="4.4" fill="#a8c030"/><circle cx="889.22" cy="124.78" r="4.4" fill="#a8c030"/><circle cx="897.18" cy="111.84" r="4.4" fill="#a8c030"/><circle cx="905.14" cy="100.26" r="4.4" fill="#a8c030"/><circle cx="913.10" cy="93.26" r="4.4" fill="#a8c030"/><circle cx="921.06" cy="88.41" r="4.4" fill="#a8c030"/><circle cx="929.02" cy="85.44" r="4.4" fill="#a8c030"/><circle cx="936.98" cy="83.83" r="4.4" fill="#a8c030"/><circle cx="944.94" cy="81.94" r="4.4" fill="#a8c030"/><circle cx="952.90" cy="81.13" r="4.4" fill="#a8c030"/>
<rect x="900.2" y="159.4" width="128" height="67.3" fill="#ffffff" stroke="#cbcbcb" stroke-width="0.9"/>
<g font-family='"Liberation Sans", Arial, sans-serif' font-size="18.6" fill="#333333"><text x="946" y="177.8" textLength="31.5" lengthAdjust="spacingAndGlyphs">sim.</text><text x="992.5" y="177.8" textLength="32" lengthAdjust="spacingAndGlyphs">exp.</text><text x="903" y="199.2" textLength="30.5" lengthAdjust="spacingAndGlyphs">A60</text><text x="903" y="220.6" textLength="39.5" lengthAdjust="spacingAndGlyphs">A150</text></g>
<line x1="948.2" y1="193.1" x2="976.5" y2="193.1" stroke="#1f4864" stroke-width="1.15"/>
<line x1="948.2" y1="214.3" x2="976.5" y2="214.3" stroke="#a8c030" stroke-width="1.15"/>
<rect x="1001.95" y="189.15" width="7.9" height="7.9" fill="#073b58"/>
<circle cx="1005.80" cy="214.30" r="4.4" fill="#a8c030"/>
<g font-family='"Liberation Serif", "DejaVu Serif", serif' font-size="30" fill="#1a1a1a"><text x="269.4" y="451.5" text-anchor="middle">(<tspan font-weight="bold">a</tspan>)</text><text x="801" y="451.5" text-anchor="middle">(<tspan font-weight="bold">b</tspan>)</text></g>
</svg>
</body></html>
